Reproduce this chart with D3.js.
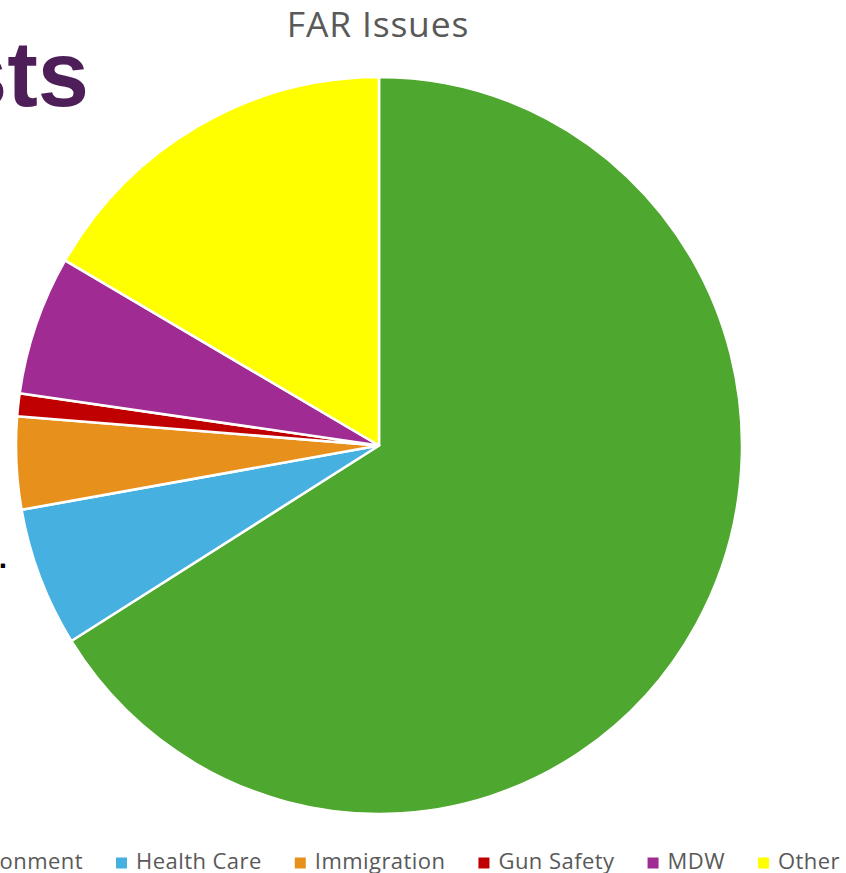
<!DOCTYPE html>
<html>
<head>
<meta charset="utf-8">
<script src="https://cdn.jsdelivr.net/npm/d3@7/dist/d3.min.js"></script>
<style>
  html, body { margin: 0; padding: 0; background: #ffffff; overflow: hidden; }
  svg { display: block; }
</style>
</head>
<body>
<svg id="chart" width="846" height="873"></svg>
<script>
// ---- data ----
const categories = ["Environment", "Health Care", "Immigration", "Gun Safety", "MDW", "Other"];
const values = [66.0, 6.1, 4.05, 1.0, 6.1, 16.6];
const colors = ["#4EA72E", "#46B1E1", "#E8901C", "#C00000", "#A02B93", "#FFFF00"];
const chartTitle = "FAR Issues";

const svg = d3.select("#chart");

// background slide text (partially hidden behind chart)
svg.append("text")
  .attr("x", 89).attr("y", 106)
  .attr("text-anchor", "end")
  .attr("font-family", "Liberation Sans, Arial, sans-serif")
  .attr("font-weight", "bold")
  .attr("font-size", 92)
  .attr("fill", "#4D1E57")
  .text("sts");
svg.append("text")
  .attr("x", 7).attr("y", 568)
  .attr("text-anchor", "end")
  .attr("font-family", "Liberation Sans, Arial, sans-serif")
  .attr("font-weight", "bold")
  .attr("font-size", 30)
  .attr("fill", "#000")
  .text(".");

// title
svg.append("text")
  .attr("x", 378).attr("y", 37)
  .attr("text-anchor", "middle")
  .attr("font-family", "Open Sans, sans-serif")
  .attr("font-size", 35.5)
  .attr("letter-spacing", 0.8)
  .attr("fill", "#595959")
  .text(chartTitle);

// pie
const cx = 379, cy = 445.5, r = 363, sy = 368.5 / 363;
const pie = d3.pie().sort(null).value(d => d)(values);
const arc = d3.arc().innerRadius(0).outerRadius(r);
const color = d3.scaleOrdinal().domain(categories).range(colors);

const g = svg.append("g").attr("transform", `translate(${cx},${cy}) scale(1,${sy})`);
g.selectAll("path")
  .data(pie)
  .join("path")
  .attr("d", arc)
  .attr("fill", (d, i) => color(categories[i]))
  .attr("stroke", "#ffffff")
  .attr("stroke-width", 2.5)
  .attr("stroke-linejoin", "round");

// legend
const fs = 22, sq = 11, pad = 9, gap = 33, ly = 869;
const legend = svg.append("g");
const items = legend.selectAll("g").data(categories).join("g");
items.append("rect")
  .attr("width", sq).attr("height", sq)
  .attr("y", ly - 11.5)
  .attr("fill", d => color(d));
items.append("text")
  .attr("y", ly)
  .attr("font-family", "Open Sans, sans-serif")
  .attr("font-size", fs)
  .attr("letter-spacing", 0.45)
  .attr("fill", "#595959")
  .text(d => d);
// layout sequentially
let x = 0;
const pos = [];
items.each(function() {
  const w = d3.select(this).select("text").node().getComputedTextLength();
  pos.push({ x: x, w: w });
  x += sq + pad + w + gap;
});
// shift so the first label ends at x = 83
const shift = 83 - (pos[0].x + sq + pad + pos[0].w);
items.each(function(d, i) {
  const s = d3.select(this);
  s.select("rect").attr("x", pos[i].x + shift);
  s.select("text").attr("x", pos[i].x + shift + sq + pad);
});
</script>
</body>
</html>
